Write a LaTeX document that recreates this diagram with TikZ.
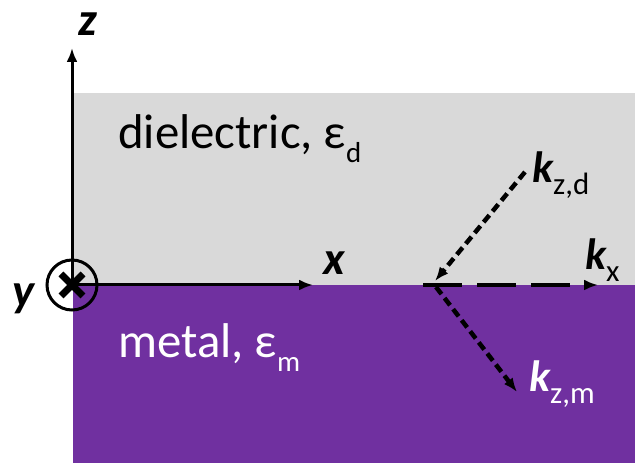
\documentclass[tikz,border=0pt]{standalone}
\usepackage{fontspec}
\setmainfont{Carlito}
\usetikzlibrary{arrows.meta}
\definecolor{dielgray}{RGB}{217,217,217}
\definecolor{metalpurple}{RGB}{112,48,160}
\tikzset{
	axis/.style={->, line width=3bp},
	wave/.style={->, line width=4.5bp, dash pattern=on 9bp off 5bp},
	wavex/.style={->, line width=4.5bp, dash pattern=on 39bp off 15bp},
	bigtext/.style={font=\fontsize{49}{50}\selectfont, anchor=base west, inner sep=0pt},
	axlabel/.style={font=\fontsize{47}{48}\selectfont\bfseries\itshape, anchor=base west, inner sep=0pt},
	klabel/.style={font=\fontsize{44}{45}\selectfont\bfseries\itshape, anchor=base west, inner sep=0pt}
}
\newcommand{\medsub}[1]{\raisebox{-14bp}{\fontsize{29}{30}\selectfont\normalfont #1}}
\newcommand{\ksub}[1]{\raisebox{-12bp}{\fontsize{31}{32}\selectfont\normalfont #1}}

\begin{document}
\begin{tikzpicture}[x=1bp, y=1bp, >={Latex[length=14bp,width=11bp]}]
		\useasboundingbox (0,0) rectangle (635,463);

		% the two media
		\fill[dielgray] (73,178) rectangle (635,370);
		\fill[metalpurple] (73,0) rectangle (635,178);

		\node[bigtext] (diel) at (118,314) {dielectric, ε\medsub{d}};
		\node[bigtext, text=white] (metal) at (118,105) {metal, ε\medsub{m}};

		% axes
		\coordinate (O) at (72,178);
		\coordinate (zt) at (72,415);
		\coordinate (xt) at (313,178);
		\draw[axis] (O) -- (zt);
		\draw[axis] (O) -- (xt);
		\node[circle, draw, line width=3bp, minimum size=50bp, inner sep=0pt] (yax) at (O) {};
		\draw[line width=7bp] ([shift={(-11,-11)}]yax.center) -- ([shift={(11,11)}]yax.center);
		\draw[line width=7bp] ([shift={(-11,11)}]yax.center) -- ([shift={(11,-11)}]yax.center);

		\node[axlabel] (zlab) at (78,427) {z};
		\node[axlabel] (xlab) at (323,188) {x};
		\node[axlabel] (ylab) at (12,156) {y};

		% wave vectors
		\coordinate (P) at (423,178);
		\coordinate (kdstart) at (525,291);
		\coordinate (kdend) at (435,182);
		\coordinate (kmstart) at (436,176);
		\coordinate (kmend) at (517,71);
		\coordinate (kxend) at (598,178);
		\draw[wave] (kdstart) -- (kdend);
		\draw[wavex] (P) -- (kxend);
		\draw[wave] (kmstart) -- (kmend);

		\node[klabel] (kd) at (532,280) {k\ksub{z,d}};
		\node[klabel] (kx) at (585,193) {k\ksub{x}};
		\node[klabel, text=white] (km) at (529,71) {k\ksub{z,m}};
	\end{tikzpicture}
\end{document}
